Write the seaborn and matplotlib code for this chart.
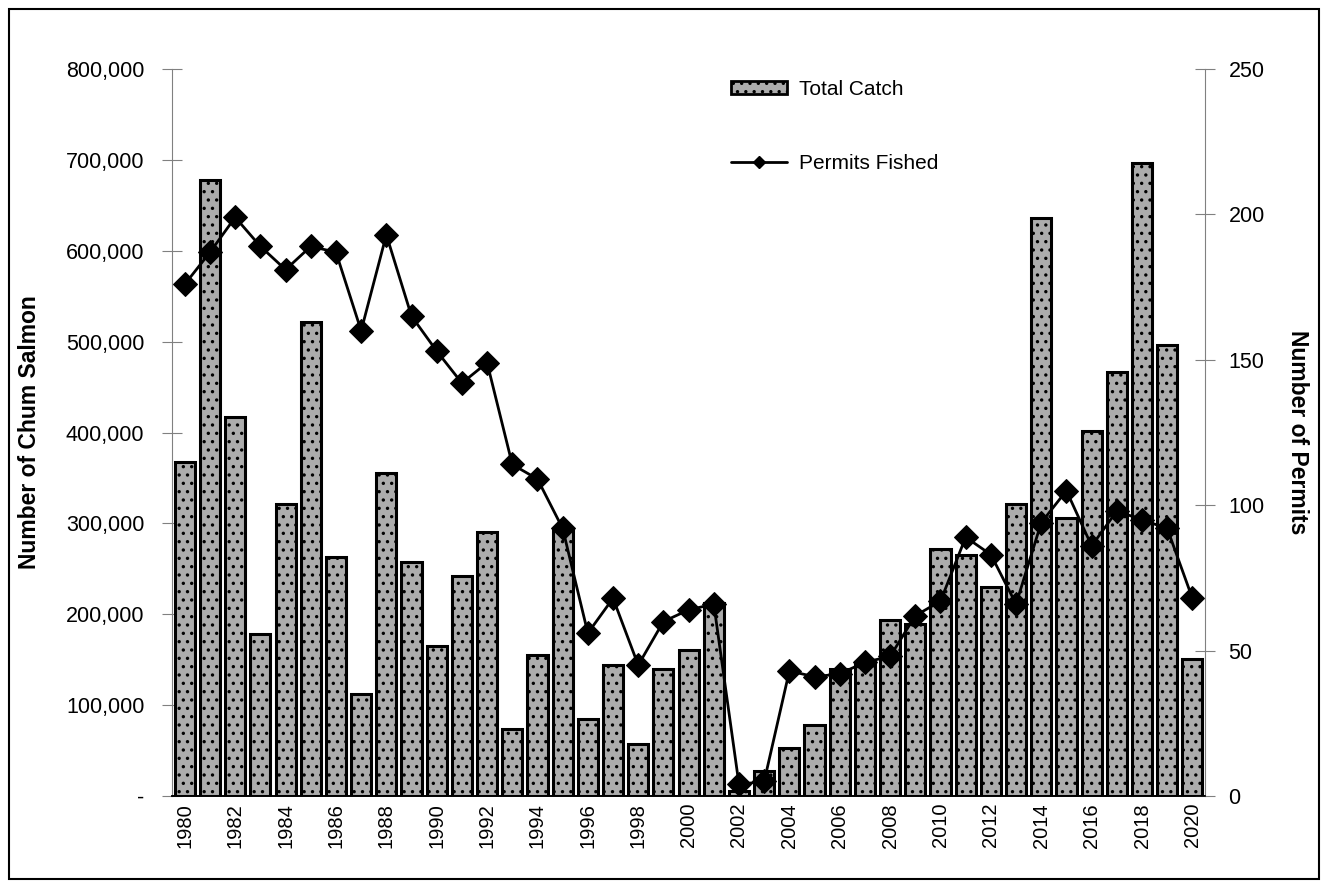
"""Chum salmon catch and permits fished, 1980-2020."""
import matplotlib
matplotlib.use("Agg")
import matplotlib.pyplot as plt
import matplotlib.ticker as mticker
from matplotlib.lines import Line2D
from matplotlib.patches import Rectangle
import numpy as np
import pandas as pd
import seaborn as sns

years = list(range(1980, 2021))
total_catch = [
    367000, 678000, 417000, 178000, 321000, 522000, 263000, 112000, 355000, 257000,
    165000, 242000, 291000, 74000, 155000, 294000, 85000, 144000, 57000, 140000,
    161000, 212000, 5000, 27000, 53000, 78000, 140000, 147000, 194000, 189000,
    272000, 265000, 230000, 321000, 636000, 306000, 402000, 467000, 697000, 496000,
    151000,
]
permits_fished = [
    176, 187, 199, 189, 181, 189, 187, 160, 193, 165,
    153, 142, 149, 114, 109, 92, 56, 68, 45, 60,
    64, 66, 4, 5, 43, 41, 42, 46, 48, 62,
    67, 89, 83, 66, 94, 105, 86, 98, 95, 92,
    68,
]

df = pd.DataFrame({"year": years, "catch": total_catch, "permits": permits_fished})
df["pos"] = np.arange(len(df))

sns.set_style("white")
plt.rcParams["font.family"] = ["Liberation Sans", "DejaVu Sans"]
plt.rcParams["text.color"] = "black"
plt.rcParams["axes.labelcolor"] = "black"
plt.rcParams["xtick.color"] = "black"
plt.rcParams["ytick.color"] = "black"
plt.rcParams["hatch.linewidth"] = 1.2
plt.rcParams["hatch.color"] = "black"

fig = plt.figure(figsize=(13.3, 8.88), dpi=100)
ax = fig.add_axes([0.1295, 0.1036, 0.7765, 0.8187])

sns.barplot(data=df, x="year", y="catch", ax=ax, width=0.8,
            color="#acacac", edgecolor="black", linewidth=2.2, saturation=1)
for bar in ax.patches:
    bar.set_hatch("..")

ax2 = ax.twinx()
sns.lineplot(data=df, x="pos", y="permits", ax=ax2, color="black", linewidth=2,
             marker="D", markersize=12, markeredgecolor="black")

ax.set_xlim(-0.5, len(years) - 0.5)
ax.set_ylim(0, 800000)
ax2.set_ylim(0, 250)

ax.yaxis.set_major_locator(mticker.MultipleLocator(100000))
ax.yaxis.set_major_formatter(
    mticker.FuncFormatter(lambda v, _: "-" if v == 0 else f"{int(v):,}"))
ax2.yaxis.set_major_locator(mticker.MultipleLocator(50))

ax.set_xticks(df["pos"])
ax.set_xticklabels([str(y) if y % 2 == 0 else "" for y in years], rotation=90)
ax.set_xticks(np.arange(-0.5, len(years)), minor=True)
ax.tick_params(axis="x", which="major", length=0, pad=5, labelsize=14.5)
ax.tick_params(axis="x", which="minor", length=8, direction="out", color="#555555")

ax.tick_params(axis="y", direction="inout", length=14, color="#808080",
               labelsize=15.5, pad=13, left=True)
ax2.tick_params(axis="y", direction="inout", length=14, color="#808080",
                labelsize=15.5, pad=10, right=True)

for a in (ax, ax2):
    a.spines["top"].set_visible(False)
    a.spines["left"].set_color("#808080")
    a.spines["right"].set_color("#808080")
    a.spines["bottom"].set_color("black")
    a.spines["bottom"].set_linewidth(1.2)
ax.spines["right"].set_visible(False)
ax2.spines["left"].set_visible(False)

ax.set_xlabel("")
ax.set_ylabel("Number of Chum Salmon", fontsize=16.5, fontweight="bold", labelpad=18)
ax2.set_xlabel("")
ax2.set_ylabel("Number of Permits", fontsize=16.5, fontweight="bold",
               rotation=270, labelpad=32)

handles = [
    Rectangle((0, 0), 1, 1, facecolor="#acacac", edgecolor="black",
              linewidth=2, hatch=".."),
    Line2D([0], [0], color="black", linewidth=2, marker="D", markersize=6),
]
ax2.legend(handles, ["Total Catch", "Permits Fished"], loc="upper left",
           bbox_to_anchor=(0.523, 1.011), frameon=False, fontsize=15,
           handlelength=2.7, handleheight=0.58, labelspacing=2.65, handletextpad=0.55)

fig.patches.append(Rectangle((0.007, 0.01), 0.985, 0.98, transform=fig.transFigure,
                             fill=False, edgecolor="black", linewidth=1.5))

fig.savefig("out.png", dpi=100)
